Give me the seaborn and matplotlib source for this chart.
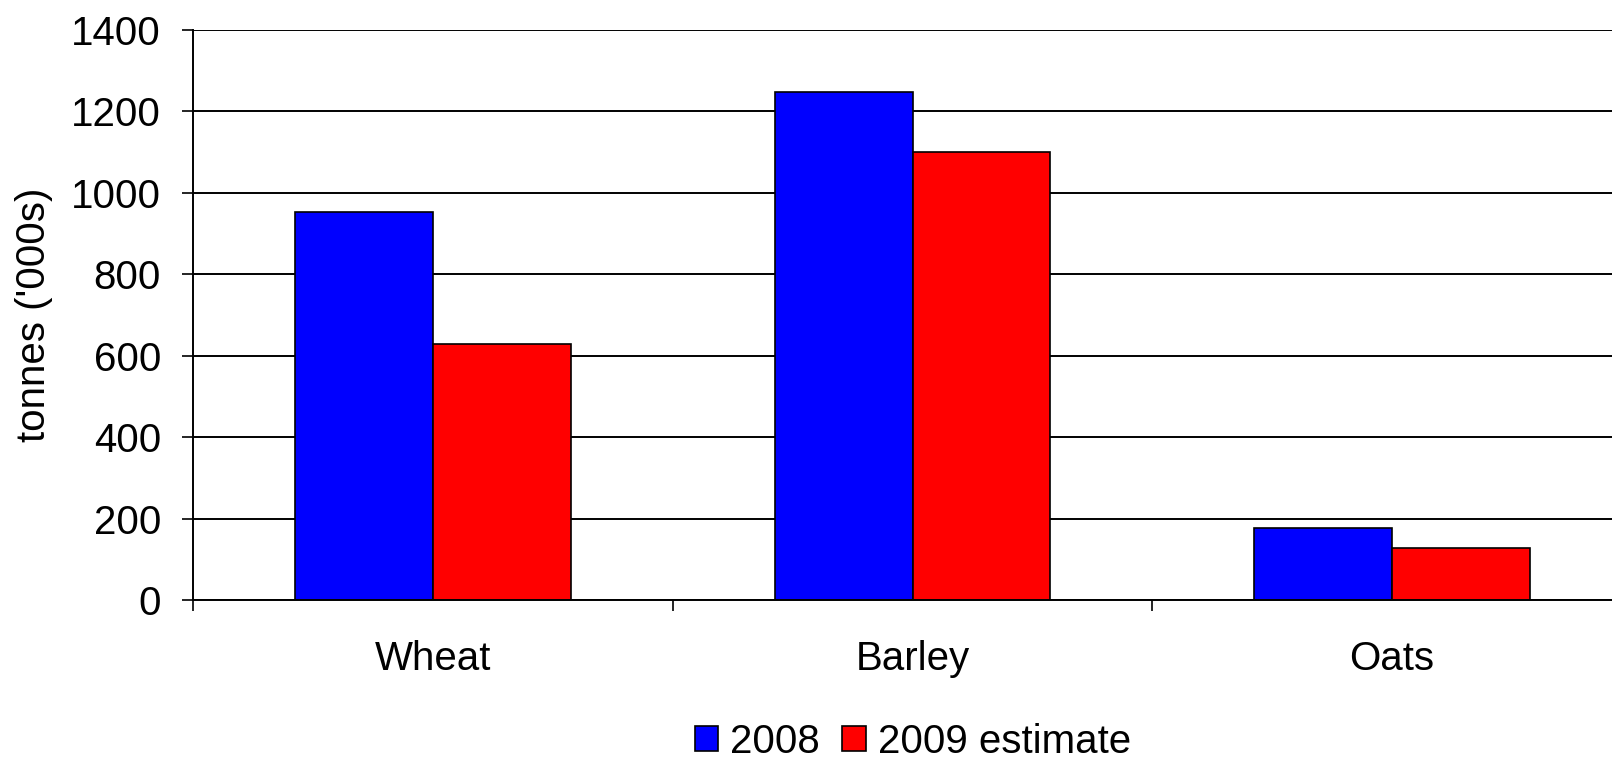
import matplotlib
matplotlib.use("Agg")
import matplotlib.pyplot as plt
from matplotlib.patches import Patch
import seaborn as sns
import pandas as pd

categories = ["Wheat", "Barley", "Oats"]
series_names = ["2008", "2009 estimate"]
values_2008 = [952, 1248, 176]
values_2009 = [628, 1101, 128]
colors = ["#0000FF", "#FF0000"]
yticks = [0, 200, 400, 600, 800, 1000, 1200, 1400]

df = pd.DataFrame({
    "crop": categories * 2,
    "year": [series_names[0]] * 3 + [series_names[1]] * 3,
    "value": values_2008 + values_2009,
})

sns.set_theme(style="white")
plt.rcParams["font.family"] = ["Liberation Sans", "DejaVu Sans"]

FS = 29

fig = plt.figure(figsize=(16.12, 7.6), dpi=100)
ax = fig.add_axes([193 / 1612, 160 / 760, 1439 / 1612, 570 / 760])

sns.barplot(data=df, x="crop", y="value", hue="year", order=categories,
            hue_order=series_names, palette=colors, width=0.575,
            edgecolor="black", linewidth=1.2, legend=False, ax=ax,
            saturation=1)

ax.set_ylim(0, 1400)
ax.set_xlim(-0.5, 2.5)
ax.set_yticks(yticks)
ax.set_yticklabels([str(v) for v in yticks], fontsize=FS, color="black")
ax.yaxis.grid(True, color="black", linewidth=1.4)
ax.set_axisbelow(True)

ax.set_xticks([-0.5, 0.5, 1.5, 2.5])
ax.set_xticklabels([])
ax.set_xticks([0, 1, 2], minor=True)
ax.set_xticklabels(categories, minor=True, fontsize=FS, color="black")
ax.tick_params(axis="x", which="major", direction="out", length=8, width=1.2, color="black", bottom=True)
ax.tick_params(axis="x", which="minor", length=0, pad=29)
ax.tick_params(axis="y", direction="out", length=8, width=1.2, color="black", left=True, pad=15)

ax.set_xlabel("")
ax.set_ylabel("tonnes ('000s)", fontsize=FS, color="black")
ax.yaxis.set_label_coords((53 - 193) / 1439, 0.5)

for side in ["top", "right"]:
    ax.spines[side].set_visible(False)
for side in ["left", "bottom"]:
    ax.spines[side].set_color("black")
    ax.spines[side].set_linewidth(1.4)

handles = [Patch(facecolor=c, edgecolor="black", linewidth=1.2) for c in colors]
fig.legend(handles, series_names, loc="center", bbox_to_anchor=(913 / 1612, 1 - 742 / 760),
           ncol=2, frameon=False, fontsize=FS, labelcolor="black", handlelength=0.58,
           handleheight=0.58, handletextpad=0.3, columnspacing=0.55, borderpad=0)

fig.savefig("out.png", dpi=100)
